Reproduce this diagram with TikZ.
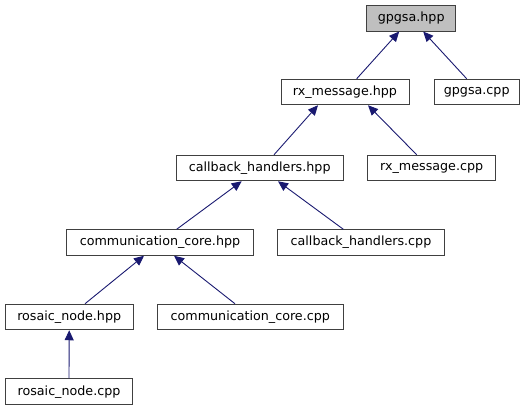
\documentclass[tikz,border=0pt]{standalone}
\usepackage{fontspec}
\setmainfont{DejaVu Sans}
\usetikzlibrary{arrows.meta}
\definecolor{edgeblue}{HTML}{191970}
\definecolor{boxline}{HTML}{404040}
\tikzset{
  box/.style={draw=boxline, line width=1pt, fill=white, minimum height=25.5pt, inner sep=0pt, font=\fontsize{12.7}{14}\selectfont, text=black},
  cur/.style={box, fill=black!25},
  dep/.style={draw=edgeblue, line width=0.9pt, -{Triangle[length=10pt,width=9pt]}}
}
\begin{document}
\begin{tikzpicture}[x=1pt,y=-1pt]
\useasboundingbox (0,0) rectangle (528,411);
\node[cur, minimum width=89pt] (g) at (411.2,18.3) {gpgsa.hpp};
\node[box, minimum width=128pt] (rxh) at (345,92) {rx\_message.hpp};
\node[box, minimum width=85pt] (gc) at (476.7,92) {gpgsa.cpp};
\node[box, minimum width=167pt] (cbh) at (259.7,168) {callback\_handlers.hpp};
\node[box, minimum width=128pt] (rxc) at (431.7,168) {rx\_message.cpp};
\node[box, minimum width=187pt] (cch) at (160,242.5) {communication\_core.hpp};
\node[box, minimum width=167pt] (cbc) at (361,242.5) {callback\_handlers.cpp};
\node[box, minimum width=128pt] (rnh) at (69.2,317) {rosaic\_node.hpp};
\node[box, minimum width=186pt] (ccc) at (250.3,317) {communication\_core.cpp};
\node[box, minimum width=127pt] (rnc) at (69,391.7) {rosaic\_node.cpp};

\draw[dep] ([xshift=11.7pt]rxh.north) -- ([xshift=-12pt]g.south);
\draw[dep] ([xshift=-10pt]gc.north) -- ([xshift=12pt]g.south);
\draw[dep] ([xshift=14.3pt]cbh.north) -- ([xshift=-27pt]rxh.south);
\draw[dep] ([xshift=-15pt]rxc.north) -- ([xshift=23pt]rxh.south);
\draw[dep] ([xshift=16.7pt]cch.north) -- ([xshift=-18pt]cbh.south);
\draw[dep] ([xshift=-17.7pt]cbc.north) -- ([xshift=18.3pt]cbh.south);
\draw[dep] ([xshift=15.8pt]rnh.north) -- ([xshift=-16pt]cch.south);
\draw[dep] ([xshift=-15.3pt]ccc.north) -- ([xshift=14pt]cch.south);
\draw[dep] (rnc.north) -- (rnh.south);
\end{tikzpicture}
\end{document}
